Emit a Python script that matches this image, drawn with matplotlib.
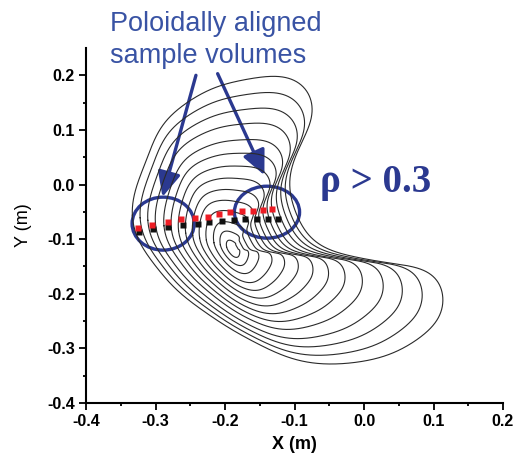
import numpy as np
import matplotlib.pyplot as plt
from matplotlib.patches import Ellipse, FancyArrowPatch

# outermost flux surface (m)
bound_x = [-0.334, -0.331, -0.322, -0.313, -0.302, -0.290, -0.273, -0.254,
           -0.233, -0.201, -0.161, -0.126, -0.104, -0.088, -0.077, -0.074,
           -0.078, -0.088, -0.100, -0.107, -0.106, -0.097, -0.078, -0.042,
           0.008, 0.066, 0.099, 0.112, 0.1135, 0.102, 0.070, 0.033,
           -0.016, -0.064, -0.107, -0.150, -0.194, -0.233, -0.262, -0.286,
           -0.309, -0.324, -0.331]
bound_y = [-0.056, -0.020, 0.017, 0.045, 0.081, 0.109, 0.132, 0.151,
           0.167, 0.184, 0.195, 0.198, 0.195, 0.180, 0.158, 0.136,
           0.110, 0.081, 0.048, 0.012, -0.020, -0.056, -0.098, -0.124,
           -0.138, -0.149, -0.164, -0.193, -0.224, -0.257, -0.290, -0.314,
           -0.327, -0.329, -0.318, -0.294, -0.263, -0.230, -0.202, -0.171,
           -0.135, -0.102, -0.080]

# magnetic axis and the elliptical core shape around it
axis_x, axis_y = -0.189, -0.118
core_a, core_b, core_tilt = 0.24, 0.10, -68.0

# normalised radius of the drawn surfaces
levels = [0.07, 0.14, 0.21, 0.29, 0.36, 0.43, 0.50,
          0.57, 0.64, 0.71, 0.79, 0.86, 0.93, 1.00]

# sample volume positions (m)
black_x = [-0.3236, -0.3029, -0.2813, -0.2611, -0.2395, -0.2226,
           -0.2043, -0.1865, -0.1707, -0.1544, -0.1385, -0.1231]
black_y = [-0.0866, -0.0822, -0.0786, -0.0744, -0.0725, -0.0683,
           -0.0665, -0.0652, -0.0640, -0.0640, -0.0640, -0.0628]
red_x = [-0.3246, -0.3044, -0.2827, -0.2634, -0.2432, -0.2250,
         -0.2082, -0.1927, -0.1754, -0.1601, -0.1457, -0.1322]
red_y = [-0.0804, -0.0738, -0.0683, -0.0634, -0.0610, -0.0592,
         -0.0543, -0.0506, -0.0488, -0.0482, -0.0469, -0.0446]

xticks = [-0.4, -0.3, -0.2, -0.1, 0.0, 0.1, 0.2]
yticks = [-0.4, -0.3, -0.2, -0.1, 0.0, 0.1, 0.2]

BLUE = '#2b3990'
TEXT_BLUE = '#3953a4'


def smooth_closed(px, py, n=2048, keep=16):
    """Resample the closed polygon by arc length and low-pass it."""
    x = np.append(px, px[0])
    y = np.append(py, py[0])
    d = np.concatenate([[0], np.cumsum(np.hypot(np.diff(x), np.diff(y)))])
    u = np.linspace(0, d[-1], n, endpoint=False)
    z = np.interp(u, d, x) + 1j * np.interp(u, d, y)
    spec = np.fft.fft(z)
    k = np.fft.fftfreq(n, 1.0 / n)
    spec[np.abs(k) > keep] = 0
    z = np.fft.ifft(spec)
    return z.real, z.imag


def core_radius(theta):
    t = theta - np.radians(core_tilt)
    return 1.0 / np.sqrt((np.cos(t) / core_a) ** 2 + (np.sin(t) / core_b) ** 2)


fig = plt.figure(figsize=(5.24, 4.55), dpi=100)
ax = fig.add_axes([86 / 524, 1 - 403 / 455, 417 / 524, 355 / 455])

# each point of the outer surface is pulled towards the axis along its ray,
# with the shape relaxing to the tilted core ellipse
cx, cy = smooth_closed(bound_x, bound_y)
dx, dy = cx - axis_x, cy - axis_y
r_out = np.hypot(dx, dy)
theta = np.arctan2(dy, dx)
r_core = core_radius(theta)
for s in levels:
    w = s ** 0.7
    r = s * ((1 - w) * r_core + w * r_out)
    xs = axis_x + r * np.cos(theta)
    ys = axis_y + r * np.sin(theta)
    ax.plot(np.append(xs, xs[0]), np.append(ys, ys[0]),
            color='#2a2a2a', lw=0.8)

ax.plot(black_x, black_y, ls='none', marker='s', ms=4.6,
        mec='none', color='#111111')
ax.plot(red_x, red_y, ls='none', marker='s', ms=4.6,
        mec='none', color='#ed1c24')

for ex, ey, w, h in [(-0.289, -0.0716, 0.0894, 0.097),
                     (-0.1396, -0.0506, 0.0938, 0.0951)]:
    ax.add_patch(Ellipse((ex, ey), w, h, fill=False, ec=BLUE, lw=2.4))

for tail, tip in [((-0.2418, 0.200), (-0.290, -0.0226)),
                  ((-0.2106, 0.203), (-0.1433, 0.0171))]:
    ax.add_patch(FancyArrowPatch(tail, tip, color=BLUE, lw=2.4,
                                 arrowstyle='-|>,head_length=0.75,head_width=0.35',
                                 mutation_scale=20, shrinkA=0, shrinkB=0))

ax.text(-0.064, -0.014, '\u03c1 > 0.3', color=BLUE, fontsize=28,
        fontweight='bold', family='Liberation Serif', va='baseline')

fig.text(110 / 524, 1 - 30.7 / 455, 'Poloidally aligned', color=TEXT_BLUE,
         fontsize=19.5, family='Liberation Sans', va='baseline')
fig.text(110 / 524, 1 - 62.7 / 455, 'sample volumes', color=TEXT_BLUE,
         fontsize=19.5, family='Liberation Sans', va='baseline')

ax.set_xlim(-0.4, 0.2)
ax.set_ylim(-0.4, 0.25)
ax.set_xticks(xticks)
ax.set_yticks(yticks)
ax.set_xticks(np.arange(-0.35, 0.2, 0.1), minor=True)
ax.set_yticks(np.arange(-0.35, 0.25, 0.1), minor=True)
ax.set_xticklabels(['%.1f' % v for v in xticks])
ax.set_yticklabels(['%.1f' % v for v in yticks])
for lab in ax.get_xticklabels() + ax.get_yticklabels():
    lab.set_fontweight('bold')
    lab.set_family('Liberation Sans')
    lab.set_fontsize(11.5)
ax.tick_params(which='major', direction='out', length=5, width=1.3, pad=3)
ax.tick_params(which='minor', direction='out', length=2.5, width=1.3)
ax.spines['top'].set_visible(False)
ax.spines['right'].set_visible(False)
ax.spines['left'].set_linewidth(1.5)
ax.spines['bottom'].set_linewidth(1.5)
ax.set_xlabel('X (m)', fontsize=13, fontweight='bold',
              family='Liberation Sans', labelpad=5)
ax.set_ylabel('Y (m)', fontsize=13, family='Liberation Sans', labelpad=11)

fig.savefig('out.png', dpi=100)
